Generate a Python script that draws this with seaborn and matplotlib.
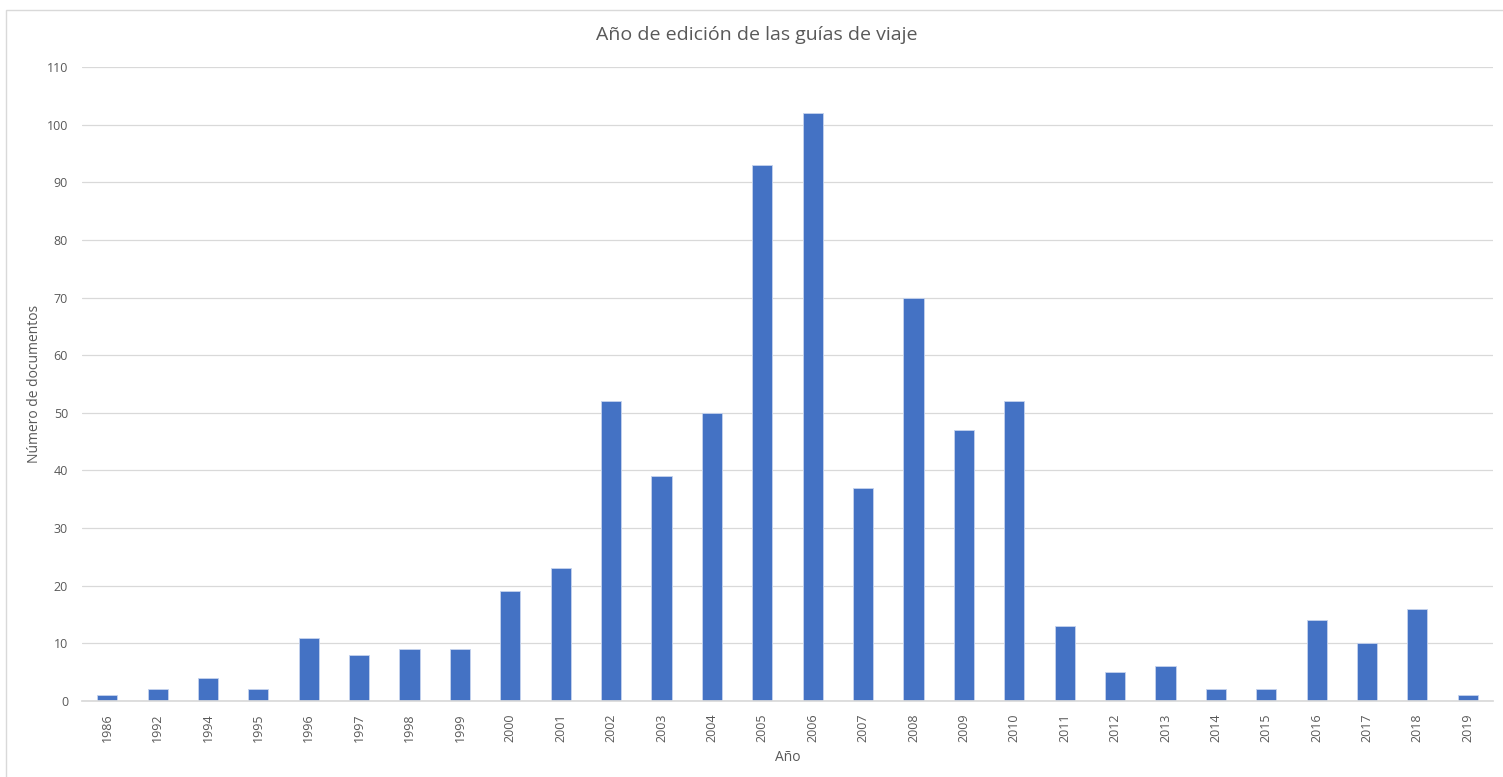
import matplotlib
matplotlib.use("Agg")
import matplotlib.pyplot as plt
import seaborn as sns
import pandas as pd

years = ["1986", "1992", "1994", "1995", "1996", "1997", "1998", "1999", "2000", "2001",
         "2002", "2003", "2004", "2005", "2006", "2007", "2008", "2009", "2010", "2011",
         "2012", "2013", "2014", "2015", "2016", "2017", "2018", "2019"]
counts = [1, 2, 4, 2, 11, 8, 9, 9, 19, 23,
          52, 39, 50, 93, 102, 37, 70, 47, 52, 13,
          5, 6, 2, 2, 14, 10, 16, 1]
y_ticks = list(range(0, 111, 10))

df = pd.DataFrame({"year": years, "count": counts})

sns.set_theme(style="white")
plt.rcParams["font.family"] = ["Open Sans", "DejaVu Sans"]

fig = plt.figure(figsize=(15.03, 7.77), dpi=100)
ax = fig.add_axes([82 / 1503, 76 / 777, 1411 / 1503, 634 / 777])

sns.barplot(data=df, x="year", y="count", color="#4472C4", saturation=1,
            width=0.4, ax=ax, edgecolor="#C5D3EE", linewidth=0.6)

ax.set_ylim(0, 110)
ax.set_yticks(y_ticks)
ax.set_xlim(-0.5, len(years) - 0.5)
ax.yaxis.grid(True, color="#D9D9D9", linewidth=0.9)
ax.set_axisbelow(True)
for s in ["top", "right", "left"]:
    ax.spines[s].set_visible(False)
ax.spines["bottom"].set_color("#D9D9D9")
ax.tick_params(axis="x", rotation=90, labelsize=9, colors="#595959", length=0, pad=9)
ax.tick_params(axis="y", labelsize=9, colors="#595959", length=0, pad=10)

ax.set_xlabel("Año", fontsize=10, color="#595959", labelpad=6)
ax.set_ylabel("Número de documentos", fontsize=10, color="#595959")
ax.yaxis.set_label_coords(-0.0283, 0.5)
fig.suptitle("Año de edición de las guías de viaje", x=757 / 1503, y=1 - 35 / 777,
             va="center", fontsize=14, color="#595959")

fig.patches.append(plt.Rectangle((6 / 1503, -0.05), 1.05, 1.05 - 10 / 777 + 0.0, transform=fig.transFigure,
                                 fill=False, edgecolor="#D9D9D9", linewidth=1))

fig.savefig("out.png", dpi=100)
